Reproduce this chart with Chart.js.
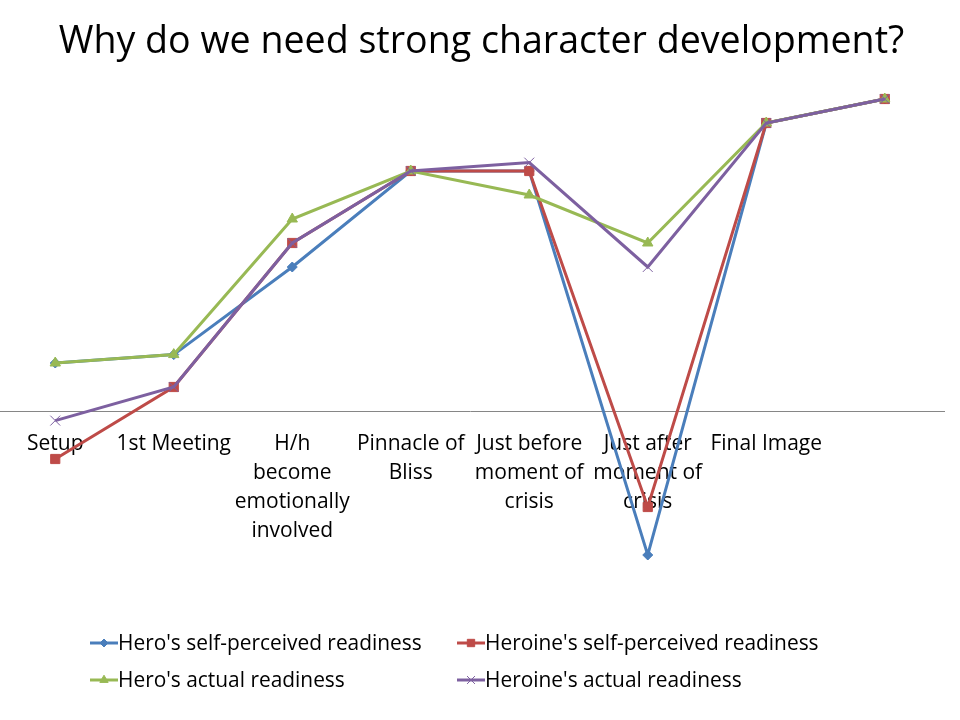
<!DOCTYPE html>
<html>
<head>
<meta charset="utf-8">
<title>Character development</title>
<script src="https://cdn.jsdelivr.net/npm/chart.js@4.4.1/dist/chart.umd.min.js"></script>
<style>
  html, body { margin: 0; padding: 0; background: #fff; overflow: hidden; }
  #wrap { position: absolute; left: -12px; top: 0; width: 972px; height: 720px; }
</style>
</head>
<body>
<div id="wrap"><canvas id="grafico"></canvas></div>
<script>
// -------------------- DADOS --------------------
const titulo = 'Why do we need strong character development?';

const categorias = [
  'Setup',
  '1st Meeting',
  ['H/h', 'become', 'emotionally', 'involved'],
  ['Pinnacle of', 'Bliss'],
  ['Just before', 'moment of', 'crisis'],
  ['Just after', 'moment of', 'crisis'],
  'Final Image',
  ''
];

const heroSelf      = [2,    2.35, 6, 10, 10,    -6, 12, 13];
const heroineSelf   = [-2,   1,    7, 10, 10,    -4, 12, 13];
const heroActual    = [2,    2.35, 8, 10, 9,      7, 12, 13];
const heroineActual = [-0.4, 1,    7, 10, 10.35,  6, 12, 13];

const nomesSeries = [
  "Hero's self-perceived readiness",
  "Heroine's self-perceived readiness",
  "Hero's actual readiness",
  "Heroine's actual readiness"
];

const Y_MIN = -8;
const Y_MAX = 14;

const FONTE = '"Open Sans", Lato, sans-serif';
const DESLOC = 12; // o canvas começa 12px fora da página, à esquerda

// -------------------- ESTILO DAS SERIES --------------------
function serie(label, data, cor, estilo, raio, borda, ordem) {
  return {
    label: label,
    data: data,
    borderColor: cor,
    backgroundColor: cor,
    borderWidth: 3,
    pointStyle: estilo,
    pointRadius: raio,
    pointHoverRadius: raio,
    pointBorderWidth: borda,
    pointBorderColor: cor,
    pointBackgroundColor: cor,
    tension: 0,
    fill: false,
    order: ordem
  };
}

const datasets = [
  serie(nomesSeries[0], heroSelf,      '#4A7EBB', 'rectRot',  5,   1, 4),
  serie(nomesSeries[1], heroineSelf,   '#BE4B48', 'rect',     6.5, 1, 3),
  serie(nomesSeries[2], heroActual,    '#98B954', 'triangle', 6,   1, 2),
  serie(nomesSeries[3], heroineActual, '#7D60A0', 'crossRot', 7,   1, 1)
];

// -------------------- TITULO E LEGENDA (duas colunas) --------------------
const tituloELegenda = {
  id: 'tituloELegenda',
  afterDraw(chart) {
    const ctx = chart.ctx;
    ctx.save();
    ctx.translate(DESLOC, 0);

    ctx.fillStyle = '#000';
    ctx.font = '37.6px ' + FONTE;
    ctx.textAlign = 'center';
    ctx.textBaseline = 'alphabetic';
    ctx.fillText(titulo, 481.5, 53);

    const colX = [90, 457];
    const linY = [643, 680];
    chart.data.datasets.forEach((ds, i) => {
      const x = colX[i % 2];
      const y = linY[Math.floor(i / 2)];
      ctx.strokeStyle = ds.borderColor;
      ctx.lineWidth = 3;
      ctx.beginPath();
      ctx.moveTo(x, y);
      ctx.lineTo(x + 28, y);
      ctx.stroke();
      ctx.fillStyle = ds.backgroundColor;
      ctx.strokeStyle = ds.borderColor;
      ctx.lineWidth = ds.pointBorderWidth;
      Chart.helpers.drawPoint(ctx, {
        pointStyle: ds.pointStyle,
        radius: ds.pointRadius * 0.8,
        rotation: 0,
        borderWidth: ds.pointBorderWidth
      }, x + 14, y);
      ctx.fillStyle = '#000';
      ctx.font = '20.9px ' + FONTE;
      ctx.textBaseline = 'alphabetic';
      ctx.textAlign = 'left';
      ctx.fillText(ds.label, x + 28, y + 7);
    });
    ctx.restore();
  }
};

// -------------------- GRAFICO --------------------
new Chart(document.getElementById('grafico'), {
  type: 'line',
  data: { labels: categorias, datasets: datasets },
  plugins: [tituloELegenda],
  options: {
    responsive: true,
    maintainAspectRatio: false,
    animation: false,
    layout: { padding: { left: 0, right: 16, top: 75, bottom: 117 } },
    plugins: {
      legend: { display: false },
      tooltip: { enabled: false },
      title: { display: false }
    },
    scales: {
      y: {
        display: false,
        min: Y_MIN,
        max: Y_MAX
      },
      x: {
        position: { y: 0 },
        offset: true,
        grid: { drawOnChartArea: false, drawTicks: false, color: 'transparent' },
        border: { display: true, color: '#868686', width: 1 },
        ticks: {
          color: '#000',
          font: { family: FONTE, size: 21, lineHeight: '29px' },
          padding: 19,
          maxRotation: 0,
          autoSkip: false
        }
      }
    }
  }
});
</script>
</body>
</html>
